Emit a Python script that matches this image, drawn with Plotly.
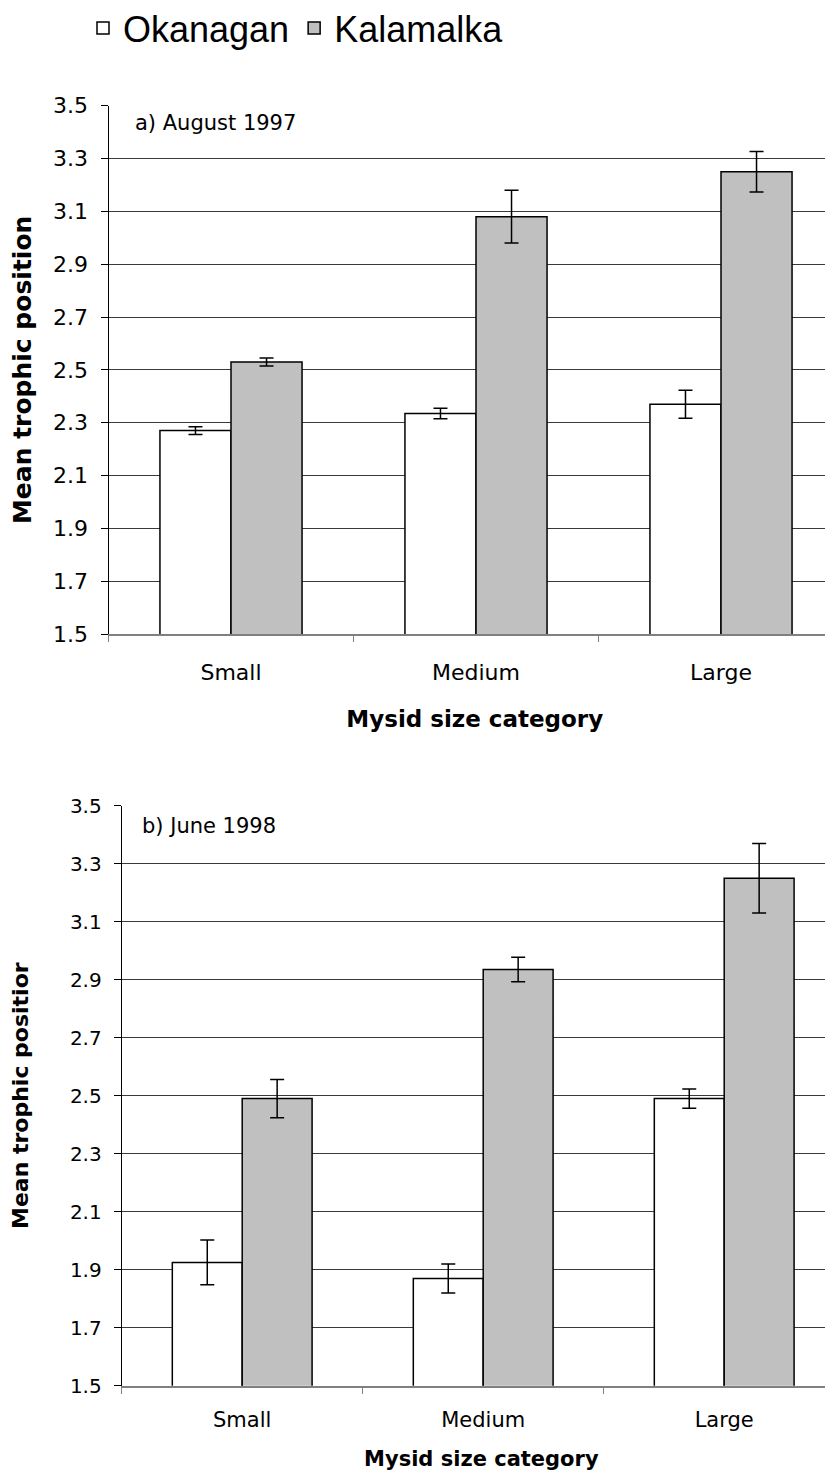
import plotly.graph_objects as go

categories = ["Small", "Medium", "Large"]
series_names = ["Okanagan", "Kalamalka"]

# Panel a) August 1997
okanagan_a = [2.27, 2.335, 2.37]
okanagan_a_err = [0.015, 0.02, 0.053]
kalamalka_a = [2.53, 3.08, 3.25]
kalamalka_a_err = [0.015, 0.10, 0.077]

# Panel b) June 1998
okanagan_b = [1.925, 1.87, 2.49]
okanagan_b_err = [0.077, 0.05, 0.033]
kalamalka_b = [2.49, 2.935, 3.25]
kalamalka_b_err = [0.066, 0.042, 0.12]

y_ticks = [1.5, 1.7, 1.9, 2.1, 2.3, 2.5, 2.7, 2.9, 3.1, 3.3, 3.5]

W, H = 833, 1471
OFF = 8  # page body margin offset
FONT = "DejaVu Sans"
fills = {"Okanagan": "#FFFFFF", "Kalamalka": "#C0C0C0"}

fig = go.Figure()

def add_bars(vals, errs, name, xa, ya, legend):
    fig.add_trace(go.Bar(
        x=categories, y=vals, name=name, showlegend=legend,
        xaxis=xa, yaxis=ya,
        marker=dict(color=fills[name], line=dict(color="black", width=1.5)),
        error_y=dict(type="data", array=errs, visible=True,
                     color="black", thickness=1.5, width=7),
    ))

add_bars(okanagan_a, okanagan_a_err, "Okanagan", "x", "y", True)
add_bars(kalamalka_a, kalamalka_a_err, "Kalamalka", "x", "y", True)
add_bars(okanagan_b, okanagan_b_err, "Okanagan", "x2", "y2", False)
add_bars(kalamalka_b, kalamalka_b_err, "Kalamalka", "x2", "y2", False)

def py(p):
    return 1 - (p - OFF) / H

def px(p):
    return (p - OFF) / W

ax_a_left, ax_b_left = 108.5, 121.7
cat_a, cat_b = 245.0, 241.0

xcommon = dict(type="category", tickson="boundaries", ticks="outside", ticklen=6,
               tickcolor="#808080", tickwidth=1, showline=True, linecolor="#808080",
               linewidth=2, showgrid=False, zeroline=False, fixedrange=True,
               automargin=False)
ycommon = dict(range=[1.5, 3.5], tickvals=y_ticks, ticktext=[f"{v:.1f}" for v in y_ticks],
               ticks="outside", ticklen=7, tickcolor="black", showline=True,
               linecolor="black", linewidth=1, showgrid=True, gridcolor="#3a3a3a",
               gridwidth=1, zeroline=False, ticklabelstandoff=8, automargin=False)

fig.update_layout(
    width=W, height=H,
    margin=dict(l=0, r=0, t=0, b=0, autoexpand=False),
    paper_bgcolor="white", plot_bgcolor="white",
    barmode="group", bargap=0.42, bargroupgap=0,
    font=dict(family=FONT, color="black"),
    showlegend=True,
    legend=dict(orientation="h", x=px(296), y=py(28), xanchor="center", yanchor="middle",
                font=dict(family="Liberation Sans", size=36), itemwidth=30,
                bgcolor="rgba(0,0,0,0)"),
    xaxis=dict(**xcommon, domain=[px(ax_a_left), 1], anchor="y",
               range=[-0.5, -0.5 + (W + OFF - ax_a_left) / cat_a],
               tickfont=dict(size=22), ticklabelstandoff=18,
               title=dict(text="<b>Mysid size category</b>", font=dict(size=23), standoff=26)),
    yaxis=dict(**ycommon, domain=[py(634), py(105.7)], anchor="x",
               tickfont=dict(size=22),
               title=dict(text="<b>Mean trophic position</b>", font=dict(size=25), standoff=22)),
    xaxis2=dict(**xcommon, domain=[px(ax_b_left), 1], anchor="y2",
                range=[-0.5, -0.5 + (W + OFF - ax_b_left) / cat_b],
                tickfont=dict(size=21), ticklabelstandoff=14,
                title=dict(text="<b>Mysid size category</b>", font=dict(size=21), standoff=20)),
    yaxis2=dict(**ycommon, domain=[py(1385.7), py(805.7)], anchor="x2",
                tickfont=dict(size=20),
                title=dict(text="<b>Mean trophic positior</b>", font=dict(size=22), standoff=37)),
    annotations=[
        dict(text="a) August 1997", x=px(133), y=py(123), xref="paper", yref="paper",
             xanchor="left", yanchor="middle", showarrow=False, font=dict(size=21)),
        dict(text="b) June 1998", x=px(140), y=py(826), xref="paper", yref="paper",
             xanchor="left", yanchor="middle", showarrow=False, font=dict(size=21)),
    ],
)

fig.write_html("out.html")
